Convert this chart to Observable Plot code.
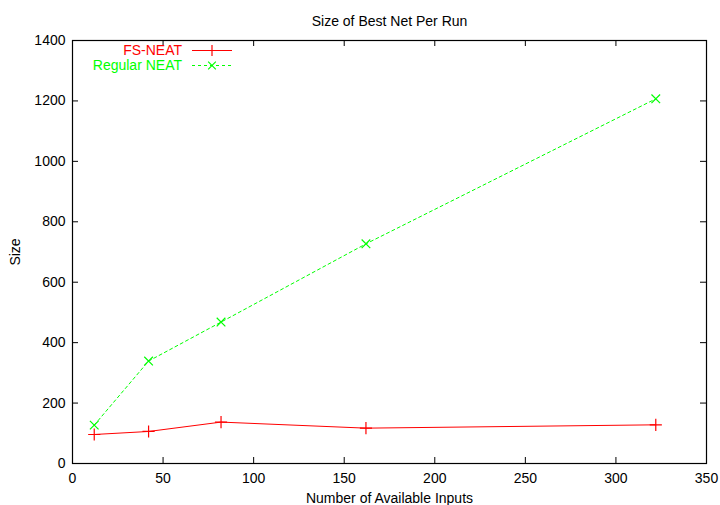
<!DOCTYPE html>
<html><head><meta charset="utf-8">
<script src="https://cdn.jsdelivr.net/npm/d3@7"></script>
<script src="https://cdn.jsdelivr.net/npm/@observablehq/plot@0.6"></script>
<style>
body{margin:0;background:#fff;}
#wrap{position:relative;width:720px;height:505px;}
</style></head><body><div id="wrap"></div>
<script>
const inputs = [12, 42, 82, 162, 322];
const fsNeat = [96, 106, 137, 117, 128];
const regularNeat = [127, 339, 468, 727, 1207];
const xTicks = [0, 50, 100, 150, 200, 250, 300, 350];
const yTicks = [0, 200, 400, 600, 800, 1000, 1200, 1400];
const seriesNames = ["FS-NEAT", "Regular NEAT"];
const seriesColors = ["#ff0000", "#00ff00"];
const seriesDash = ["none", "3,3"];
const seriesSymbols = ["plus", "times"];
const titleText = "Size of Best Net Per Run";
const xLabel = "Number of Available Inputs";
const yLabel = "Size";

const W = 720, H = 505, mL = 72, mR = 14, mT = 40, mB = 42;
const fw = W - mL - mR, fh = H - mT - mB, tl = 6;
const font = "'Liberation Sans', Arial, Helvetica, sans-serif";

const series = [fsNeat, regularNeat].map((vals, k) =>
  inputs.map((x, i) => ({x, y: vals[i], s: seriesNames[k]})));

const marks = [
  Plot.ruleX(xTicks, {x: d => d, insetTop: fh - tl, stroke: "#000"}),
  Plot.ruleX(xTicks, {x: d => d, insetBottom: fh - tl, stroke: "#000"}),
  Plot.ruleY(yTicks, {y: d => d, insetRight: fw - tl, stroke: "#000"}),
  Plot.ruleY(yTicks, {y: d => d, insetLeft: fw - tl, stroke: "#000"}),
  Plot.axisX(xTicks, {tickSize: 0, tickPadding: 10, tickFormat: d => String(d), label: xLabel, labelAnchor: "center", labelOffset: 39, labelArrow: "none"}),
  Plot.axisY(yTicks, {tickSize: 0, tickPadding: 7, tickFormat: d => String(d), label: yLabel, labelAnchor: "center", labelOffset: 62, labelArrow: "none"}),
  Plot.frame({stroke: "#000", strokeWidth: 1.2}),
  Plot.text([titleText], {text: d => d, frameAnchor: "top", dy: -24, fontSize: 14})
];
series.forEach((data, k) => {
  marks.push(Plot.line(data, {x: "x", y: "y", stroke: seriesColors[k], strokeWidth: 1, strokeDasharray: seriesDash[k]}));
  marks.push(Plot.dot(data, {x: "x", y: "y", symbol: seriesSymbols[k], r: 4, stroke: seriesColors[k], strokeWidth: 1.2, fill: "none"}));
});

const chart = Plot.plot({
  width: W, height: H,
  marginLeft: mL, marginRight: mR, marginTop: mT, marginBottom: mB,
  style: {fontFamily: font, fontSize: "14px", background: "#fff", color: "#000"},
  x: {domain: [0, 350]},
  y: {domain: [0, 1400]},
  marks
});
document.getElementById("wrap").appendChild(chart);

// legend (gnuplot style, inside top-left of plot)
const svg = d3.select(chart);
const lg = svg.append("g").attr("font-family", font).attr("font-size", 14);
seriesNames.forEach((name, k) => {
  const y = 50.5 + k * 15;
  lg.append("text").attr("x", 182).attr("y", y).attr("dy", "0.35em")
    .attr("text-anchor", "end").attr("fill", seriesColors[k]).text(name);
  lg.append("line").attr("x1", 192).attr("x2", 232).attr("y1", y).attr("y2", y)
    .attr("stroke", seriesColors[k]).attr("stroke-dasharray", seriesDash[k] === "none" ? null : seriesDash[k]);
  lg.append("path").attr("transform", `translate(212,${y})`)
    .attr("d", d3.symbol(k === 0 ? d3.symbolPlus : d3.symbolTimes, 40)())
    .attr("stroke", seriesColors[k]).attr("fill", "none").attr("stroke-width", 1.2);
});
</script></body></html>
